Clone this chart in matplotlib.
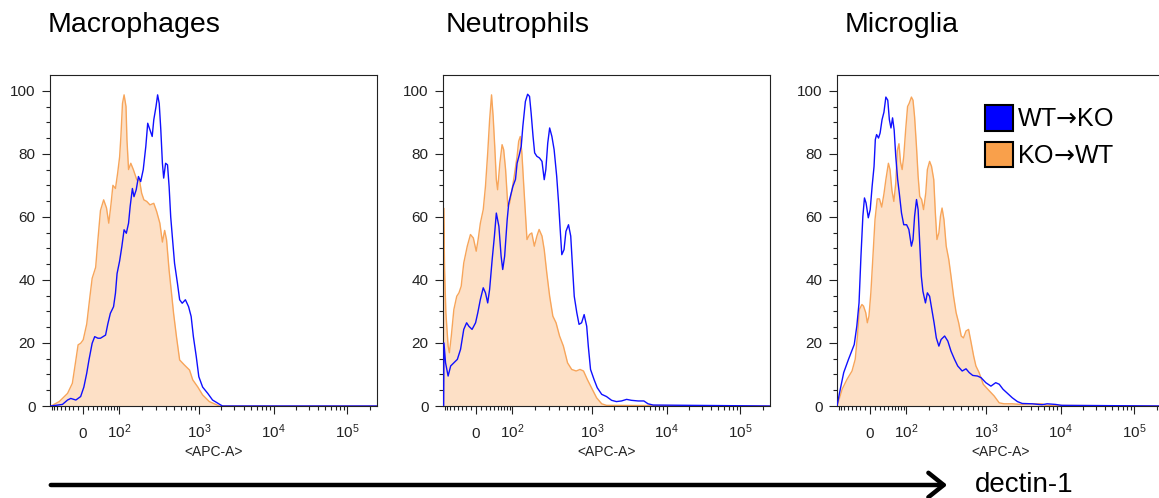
import numpy as np
import matplotlib
matplotlib.use("Agg")
import matplotlib.pyplot as plt
from matplotlib.patches import Patch, FancyArrowPatch

plt.rcParams["font.family"] = ["Liberation Sans", "DejaVu Sans"]
plt.rcParams["mathtext.fontset"] = "custom"
plt.rcParams["mathtext.rm"] = "Liberation Sans"
plt.rcParams["mathtext.sf"] = "DejaVu Sans"

panel_titles = ["Macrophages", "Neutrophils", "Microglia"]
series_names = [r"$\mathregular{WT}\mathsf{→}\mathregular{KO}$",
                r"$\mathregular{KO}\mathsf{→}\mathregular{WT}$"]

# histogram traces:
# x = display channel (0-1024, biexponential APC-A axis), y = % of max
mac_wt_ch = [0, 3, 39, 55, 65, 81, 96, 106, 115, 122, 132, 140, 150, 158, 174, 181, 189, 199,
             205, 210, 218, 225, 232, 239, 246, 251, 258, 263, 270, 277, 284, 292, 300, 306,
             313, 320, 325, 332, 337, 342, 347, 352, 356, 362, 368, 373, 378, 383, 390, 399,
             406, 414, 424, 434, 442, 449, 458, 466, 478, 494, 509, 530, 540, 1024]
mac_wt_pct = [0, 0, 0.5, 1.9, 2.4, 1.9, 3, 6, 10.4, 14.6, 19.9, 22, 21.5, 21.5, 22.5, 26, 29.4, 31.5,
              35.8, 42, 46, 50.6, 55.9, 54.8, 58, 63.3, 69, 66.4, 68.6, 72.8, 71.2, 75, 82.3, 89.7,
              87.6, 85.5, 90.8, 95, 98.7, 96, 87.6, 77, 72.3, 77, 76.5, 69.6, 60, 53.8, 45.3, 39,
              33.7, 32.6, 33.7, 31.5, 28.4, 22, 15.7, 9.3, 6, 4, 1.9, 0.6, 0, 0]
mac_ko_ch = [0, 3, 29, 55, 70, 81, 88, 96, 104, 115, 125, 132, 143, 150, 158, 168, 177, 184, 191,
             197, 205, 212, 218, 222, 227, 232, 238, 241, 246, 253, 261, 272, 280, 287, 294, 303,
             313, 325, 334, 344, 352, 359, 365, 373, 380, 387, 396, 406, 421, 437, 447, 463, 478,
             499, 530, 1024]
mac_ko_pct = [0, 0, 1.4, 4, 7.2, 14.6, 19.4, 19.9, 21, 26, 34.7, 40.5, 44, 52.7, 62, 65.4, 62.8, 58,
              64, 70, 69, 74, 79, 85.5, 96, 98.7, 95, 84.4, 75, 77, 75, 71.7, 71.7, 67.5, 65.4, 64.9,
              63.8, 64.3, 61.7, 58, 52, 55.7, 52.7, 43, 36.3, 29.4, 22, 14.6, 13, 11.4, 8.3, 6, 3.5,
              1.4, 0, 0]

neu_wt_ch = [2, 3, 8, 16, 24, 34, 45, 55, 65, 74, 81, 91, 102, 109, 117, 126, 133, 140, 146, 154,
             161, 167, 175, 182, 187, 193, 201, 206, 211, 219, 227, 232, 239, 245, 250, 258, 265,
             271, 276, 282, 287, 294, 302, 310, 317, 322, 328, 334, 341, 348, 356, 362, 367, 372,
             379, 385, 393, 400, 406, 411, 419, 426, 434, 442, 450, 455, 462, 473, 483, 497, 512,
             528, 543, 559, 575, 590, 611, 629, 642, 658, 1024]
neu_wt_pct = [0, 20, 13.7, 9.5, 12.7, 13.7, 14.8, 18, 24.3, 26.4, 25.3, 24.3, 26.4, 29.6, 33.8,
              37.5, 35.9, 32.7, 37, 46.5, 53.9, 61.2, 57, 47.5, 43.3, 47.5, 59.1, 64.4, 66.5, 69.7,
              71.9, 77, 79.7, 82.4, 88.7, 96.6, 98.9, 98.2, 92.9, 85.5, 80.3, 79.2, 78.7, 77.6,
              71.8, 75, 83.4, 88.2, 85.5, 81.3, 72.9, 64.4, 56, 48, 49.6, 55.4, 57.5, 53.9, 43.3,
              34.8, 29.6, 25.9, 26.4, 29, 25.3, 19, 11.6, 8.4, 5.8, 3.7, 3, 1.8, 1.4, 1.6, 2.1, 1.8,
              1.6, 1.6, 0.7, 0.3, 0]
neu_ko_ch = [1, 2, 5, 9, 16, 20, 26, 34, 43, 50, 57, 65, 76, 86, 95, 104, 110, 117, 126, 133, 140,
             146, 152, 157, 162, 167, 171, 178, 185, 190, 196, 203, 209, 216, 223, 232, 237, 242,
             247, 253, 258, 263, 271, 278, 286, 294, 301, 310, 317, 325, 334, 344, 354, 365, 377,
             390, 403, 417, 429, 440, 452, 465, 481, 497, 512, 1024]
neu_ko_pct = [0, 62.8, 43.3, 29.6, 19, 16.9, 22.2, 30.6, 34.8, 35.9, 38, 45.4, 50.7, 54.4, 53.3,
              49.1, 52.8, 58, 62.3, 69.7, 80.3, 90.8, 98.7, 91.9, 82.4, 71.8, 68.6, 77, 82.9, 81.3,
              75, 63.4, 64.4, 68.6, 72.9, 79.2, 84, 85.5, 80.3, 69.7, 61.2, 52.8, 54.4, 54.9, 50.7,
              53.9, 56, 53.9, 49.6, 42.2, 34.8, 28.5, 26.4, 22.2, 19, 13.7, 11.6, 11.1, 11.6, 11.1,
              8.4, 5.8, 2.6, 0.7, 0.2, 0]

mic_wt_ch = [0, 2, 8, 21, 36, 54, 62, 69, 75, 81, 86, 91, 98, 104, 110, 116, 120, 124, 130, 135,
             141, 147, 153, 159, 164, 169, 174, 179, 184, 190, 195, 202, 209, 218, 225, 233, 238,
             243, 249, 254, 259, 264, 269, 277, 283, 290, 297, 304, 311, 319, 326, 337, 347, 357,
             368, 378, 392, 404, 414, 425, 440, 451, 466, 482, 497, 508, 520, 534, 549, 565, 580,
             611, 642, 658, 684, 704, 1024]
mic_wt_pct = [0, 1, 4.2, 10.6, 14.8, 19.5, 25.3, 32.7, 47.5, 60.2, 66, 64.4, 59.7, 62.3, 69.7, 76,
              84.5, 86.1, 85, 86.6, 90.8, 93.2, 98, 97, 90.8, 88.2, 91.4, 87.6, 79.2, 71.8, 67.6,
              61.2, 57.5, 57.5, 56, 50.7, 52.8, 60.2, 65.5, 62.3, 51.7, 41.2, 36.4, 32.7, 35.9,
              34.8, 30.6, 26.4, 21.6, 19, 21.1, 22.2, 20.6, 17.4, 14.8, 12.7, 11.1, 11.8, 10.6, 9.7,
              9.5, 9, 7.4, 6.3, 7.4, 6.9, 5.3, 4, 2.6, 1.4, 0.8, 0.7, 0.4, 0.7, 0.5, 0.2, 0]
mic_ko_ch = [0, 2, 16, 31, 47, 57, 64, 70, 78, 83, 90, 95, 100, 106, 112, 119, 126, 133, 140, 147,
             153, 161, 166, 172, 178, 184, 189, 194, 199, 204, 209, 215, 221, 226, 233, 238, 243,
             249, 254, 259, 265, 271, 278, 283, 290, 296, 303, 308, 313, 319, 324, 329, 335, 342,
             350, 357, 365, 373, 381, 389, 396, 404, 412, 420, 428, 435, 445, 458, 477, 492, 508,
             523, 549, 575, 611, 642, 653, 1024]
mic_ko_pct = [0, 0.5, 5.3, 8.4, 11.1, 14.8, 22.2, 30.6, 32.2, 31.7, 29.6, 26.4, 28.5, 35.9, 46.5,
              59.1, 65.7, 65.7, 63.1, 67.3, 71.8, 77, 75, 68.4, 64.9, 70.7, 81.1, 83.2, 77.3, 75,
              79.2, 87.6, 95, 96, 98, 97, 91.7, 82.1, 72.9, 66.5, 65.5, 62.3, 67.6, 75, 77.6, 76,
              71.8, 61.2, 52.8, 54.9, 60.2, 62.8, 59.1, 50.7, 46.5, 41.2, 34.8, 29.6, 26.4, 22.2,
              21.6, 23.8, 24.3, 20.1, 15.8, 12.7, 10.6, 6.9, 4.8, 3.2, 1, 0.7, 0.7, 0.5, 0.7, 0.7,
              0.2, 0]

wt_ch = [mac_wt_ch, neu_wt_ch, mic_wt_ch]
wt_pct = [mac_wt_pct, neu_wt_pct, mic_wt_pct]
ko_ch = [mac_ko_ch, neu_ko_ch, mic_ko_ch]
ko_pct = [mac_ko_pct, neu_ko_pct, mic_ko_pct]

# axis decoration: channel of each decade on the biex display
anchor_vals = np.array([-100, 0, 1e2, 1e3, 1e4, 1e5, 262144])
anchor_ch = np.array([-10, 103, 216, 466, 700, 931, 1028])
major_labels = ["0", r"$\mathregular{10^2}$", r"$\mathregular{10^3}$",
                r"$\mathregular{10^4}$", r"$\mathregular{10^5}$"]


def chan(v):
    """APC value -> display channel (biexponential-like)"""
    return np.interp(np.arcsinh(np.asarray(v) / 50.0),
                     np.arcsinh(anchor_vals / 50.0), anchor_ch)


minor_vals = ([-k * 10 for k in range(1, 10)] + [k * 10 for k in range(1, 10)]
              + [k * 10 ** d for d in (2, 3, 4) for k in range(2, 10)] + [2e5])
minor_ch = [c for c in chan(minor_vals) if 0 < c < 1024]

BLUE = "#1010ff"
ORANGE = "#f7a55a"
FILL = "#fde0c6"
TXT = "#222222"

fig = plt.figure(figsize=(11.59, 4.98), dpi=100)
W, H = 1159, 498
lefts = [50, 443, 837]
title_x = [48, 446, 845]
axes = []
for i, left in enumerate(lefts):
    ax = fig.add_axes([left / W, (H - 406) / H, 327 / W, 331 / H])
    axes.append(ax)
    ax.fill_between(ko_ch[i], ko_pct[i], 0, color=FILL, lw=0, zorder=1)
    ax.plot(ko_ch[i], ko_pct[i], color=ORANGE, lw=1.0, zorder=2)
    ax.plot(wt_ch[i], wt_pct[i], color=BLUE, lw=1.0, zorder=3)

    ax.set_xlim(0, 1024)
    ax.set_ylim(0, 105)
    ax.set_xticks(chan(anchor_vals[1:6]), major_labels)
    ax.set_xticks(minor_ch, minor=True)
    ax.set_yticks(np.arange(0, 101, 20))
    ax.set_yticks(np.arange(0, 101, 5), minor=True)
    ax.tick_params(axis="both", which="major", direction="out", length=5.5, width=0.8,
                   color=TXT, labelcolor=TXT, labelsize=11)
    ax.tick_params(axis="both", which="minor", direction="out", length=3, width=0.8,
                   color=TXT)
    ax.tick_params(axis="y", which="major", pad=5)
    ax.tick_params(axis="x", which="major", pad=17.5)
    for t in ax.get_xticklabels():
        t.set_va("baseline")
    ax.set_xlabel("<APC-A>", fontsize=10, color=TXT)
    ax.xaxis.set_label_coords(0.5, -0.118)
    for s in ax.spines.values():
        s.set_linewidth(0.8)
        s.set_color(TXT)
    fig.text(title_x[i] / W, 1 - 32 / H, panel_titles[i], fontsize=20.5,
             ha="left", va="baseline", color="black")

handles = [Patch(facecolor="#0000ff", edgecolor="black", lw=1.5),
           Patch(facecolor="#f9a04b", edgecolor="black", lw=1.5)]
axes[2].legend(handles, series_names, loc="upper left", bbox_to_anchor=(0.452, 0.909),
               frameon=False, fontsize=18, handlelength=1.12, handleheight=1.2,
               handletextpad=0.15, labelspacing=0.42, borderpad=0, borderaxespad=0)

arrow = FancyArrowPatch((48 / W, 1 - 485 / H), (950 / W, 1 - 485 / H),
                        transform=fig.transFigure, arrowstyle="->,head_length=0.5,head_width=0.4",
                        mutation_scale=22, lw=3.2, color="black")
fig.patches.append(arrow)
fig.text(975 / W, 1 - 485 / H, "dectin-1", fontsize=20, ha="left", va="center")

fig.savefig("out.png", dpi=100)
